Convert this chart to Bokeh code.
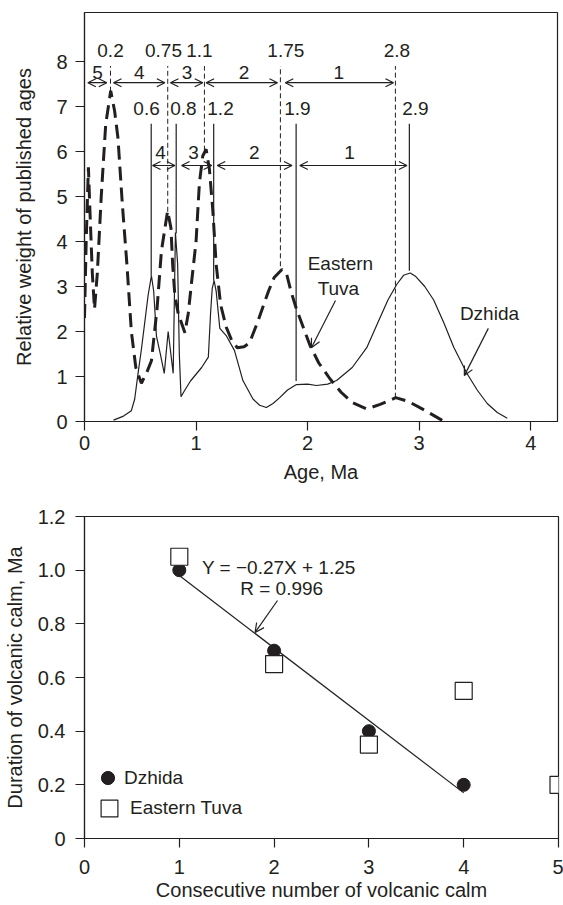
from bokeh.plotting import figure
from bokeh.models import (ColumnDataSource, Arrow, OpenHead, Legend, LegendItem,
                          FixedTicker, CustomJSTickFormatter, Range1d)
from bokeh.layouts import column
from bokeh.embed import file_html
from bokeh.resources import INLINE
from bokeh.core.properties import value

FONT = "Liberation Sans"
INK = "#231f20"
FS = "19px"
AX_FS = "20px"

# ---------------- top panel data ----------------
tuva_age = [0.0, 0.015, 0.035, 0.05, 0.07, 0.09, 0.115, 0.15, 0.19, 0.235, 0.27, 0.3, 0.34,
            0.38, 0.42, 0.46, 0.51, 0.56, 0.6, 0.65, 0.69, 0.745, 0.775, 0.79, 0.81, 0.84,
            0.9, 0.93, 0.96, 1.0, 1.03, 1.06, 1.09, 1.12, 1.15, 1.18, 1.22, 1.27, 1.32,
            1.37, 1.43, 1.48, 1.55, 1.6, 1.65, 1.7, 1.77, 1.81, 1.85, 1.9, 1.96, 2.02,
            2.1, 2.2, 2.3, 2.4, 2.53, 2.65, 2.79, 2.9, 3.05, 3.21]
tuva_weight = [2.3, 4.0, 5.65, 4.6, 3.3, 2.5, 3.3, 5.0, 6.6, 7.35, 6.9, 6.3, 4.8,
               3.5, 2.0, 1.2, 0.85, 1.1, 1.35, 2.5, 3.8, 4.68, 4.3, 3.5, 2.8, 2.4,
               1.97, 2.4, 3.1, 4.0, 5.3, 5.9, 6.05, 5.6, 4.7, 3.5, 2.6, 2.1, 1.8,
               1.64, 1.66, 1.75, 2.2, 2.55, 2.9, 3.2, 3.38, 3.3, 2.9, 2.5, 2.1, 1.7,
               1.3, 0.95, 0.65, 0.42, 0.28, 0.38, 0.53, 0.45, 0.25, 0.02]

dzhida_age = [0.26, 0.35, 0.42, 0.45, 0.48, 0.51, 0.54, 0.57, 0.6, 0.62, 0.645, 0.68, 0.715,
              0.75, 0.795, 0.815, 0.835, 0.85, 0.865, 0.9, 0.95, 1.0, 1.05, 1.11, 1.13,
              1.145, 1.162, 1.18, 1.2, 1.213, 1.27, 1.344, 1.42, 1.51, 1.57, 1.63, 1.69,
              1.75, 1.82, 1.9, 2.0, 2.08, 2.18, 2.26, 2.4, 2.53, 2.63, 2.72, 2.8, 2.86,
              2.92, 2.97, 3.05, 3.13, 3.22, 3.31, 3.43, 3.52, 3.61, 3.7, 3.79]
dzhida_weight = [0.03, 0.12, 0.24, 0.5, 1.07, 1.6, 2.2, 2.8, 3.24, 2.9, 1.9, 1.5, 1.07,
                 2.0, 1.07, 4.2, 3.5, 1.5, 0.55, 0.7, 0.9, 1.05, 1.2, 1.43, 2.4,
                 2.96, 3.13, 2.9, 2.4, 2.07, 1.91, 1.58, 0.91, 0.5, 0.36, 0.31, 0.4,
                 0.53, 0.7, 0.82, 0.83, 0.8, 0.83, 0.91, 1.2, 1.64, 2.2, 2.7, 3.05, 3.25,
                 3.3, 3.22, 3.0, 2.7, 2.2, 1.65, 1.06, 0.7, 0.4, 0.2, 0.07]

# boundaries of volcanic pulses
tuva_bound_age = [0.233, 0.746, 1.075, 1.756, 2.787]
tuva_bound_base = [7.33, 4.66, 6.02, 3.45, 0.53]
tuva_bound_label = ["0.2", "0.75", "1.1", "1.75", "2.8"]
dzhida_bound_age = [0.598, 0.822, 1.158, 1.897, 2.912]
dzhida_bound_base = [3.24, 4.18, 3.13, 0.9, 3.35]
dzhida_bound_label = ["0.6", "0.8", "1.2", "1.9", "2.9"]

# calm intervals (arrows)
tuva_calm_start = [0.03, 0.26, 0.77, 1.09, 1.80]
tuva_calm_end = [0.2, 0.72, 1.06, 1.73, 2.77]
tuva_calm_num = ["5", "4", "3", "2", "1"]
dzhida_calm_start = [0.61, 0.87, 1.19, 1.93]
dzhida_calm_end = [0.81, 1.14, 1.86, 2.89]
dzhida_calm_num = ["4", "3", "2", "1"]

# ---------------- bottom panel data ----------------
calm_number_dzhida = [1, 2, 3, 4]
calm_duration_dzhida = [1.0, 0.7, 0.4, 0.2]
calm_number_tuva = [1, 2, 3, 4, 5]
calm_duration_tuva = [1.05, 0.65, 0.35, 0.55, 0.2]
fit_x = [1, 4]
fit_y = [0.98, 0.17]

# ---------------- annotation positions ----------------
tuva_top_y = 7.9
dzhida_top_y = 6.62
tuva_arrow_y = 7.53
dzhida_arrow_y = 5.69
tuva_bound_label_x = [0.233, 0.708, 1.03, 1.805, 2.80]
tuva_bound_label_y = 8.24
dzhida_bound_label_x = [0.556, 0.887, 1.219, 1.909, 2.966]
dzhida_bound_label_y = 6.96
tuva_num_x = [0.117, 0.49, 0.92, 1.43, 2.28]
tuva_num_y = 7.76
dzhida_num_x = [0.681, 0.977, 1.523, 2.375]
dzhida_num_y = 5.98


def style(p):
    p.outline_line_color = INK
    p.outline_line_width = 1.2
    p.grid.visible = False
    p.background_fill_color = "white"
    p.border_fill_color = "white"
    for ax in p.axis:
        ax.axis_line_color = INK
        ax.axis_line_width = 1.2
        ax.major_tick_line_color = INK
        ax.major_tick_line_width = 1.2
        ax.major_tick_in = 0
        ax.major_tick_out = 9
        ax.minor_tick_line_color = None
        ax.major_label_text_font = FONT
        ax.major_label_text_font_size = AX_FS
        ax.major_label_text_color = INK
        ax.axis_label_text_font = FONT
        ax.axis_label_text_font_size = AX_FS
        ax.axis_label_text_font_style = "normal"
        ax.axis_label_text_color = INK


def texts(p, xs, ys, labels):
    p.text(x=xs, y=ys, text=labels, text_font=value(FONT), text_font_size=value(FS),
           text_align="center", text_baseline="middle", text_color=INK)


def head(size=8):
    return OpenHead(size=size, line_color=INK, line_width=1.2)


# ================= top figure =================
p1 = figure(frame_width=473, frame_height=409, min_border_left=84, min_border_right=6,
            min_border_top=12, min_border_bottom=72,
            x_range=Range1d(0, 4.24), y_range=Range1d(0, 9.09),
            output_backend="svg", toolbar_location=None,
            x_axis_label="Age, Ma", y_axis_label="Relative weight of published ages")
style(p1)
p1.xaxis.ticker = FixedTicker(ticks=[0, 1, 2, 3, 4])
p1.yaxis.ticker = FixedTicker(ticks=[0, 1, 2, 3, 4, 5, 6, 7, 8])
p1.xaxis.major_label_standoff = 5
p1.xaxis.axis_label_standoff = 8
p1.yaxis.major_label_standoff = 8
p1.yaxis.axis_label_standoff = 18

p1.line(tuva_age, tuva_weight, line_width=3, line_dash="14 7", line_color=INK)
p1.line(dzhida_age, dzhida_weight, line_width=1.2, line_color=INK)

p1.segment(x0=tuva_bound_age, y0=tuva_bound_base, x1=tuva_bound_age,
           y1=[tuva_top_y] * len(tuva_bound_age), line_width=1, line_dash="5 3", line_color=INK)
p1.segment(x0=dzhida_bound_age, y0=dzhida_bound_base, x1=dzhida_bound_age,
           y1=[dzhida_top_y] * len(dzhida_bound_age), line_width=1.2, line_color=INK)

src_t = ColumnDataSource(dict(x0=tuva_calm_start, x1=tuva_calm_end, y=[tuva_arrow_y] * len(tuva_calm_start)))
p1.add_layout(Arrow(start=head(), end=head(), x_start="x0", y_start="y", x_end="x1", y_end="y",
                    source=src_t, line_width=1.2, line_color=INK))
src_d = ColumnDataSource(dict(x0=dzhida_calm_start, x1=dzhida_calm_end, y=[dzhida_arrow_y] * len(dzhida_calm_start)))
p1.add_layout(Arrow(start=head(), end=head(), x_start="x0", y_start="y", x_end="x1", y_end="y",
                    source=src_d, line_width=1.2, line_color=INK))

texts(p1, tuva_bound_label_x, [tuva_bound_label_y] * 5, tuva_bound_label)
texts(p1, dzhida_bound_label_x, [dzhida_bound_label_y] * 5, dzhida_bound_label)
texts(p1, tuva_num_x, [tuva_num_y] * 5, tuva_calm_num)
texts(p1, dzhida_num_x, [dzhida_num_y] * 4, dzhida_calm_num)

texts(p1, [2.294, 2.276, 3.63], [3.51, 2.96, 2.4], ["Eastern", "Tuva", "Dzhida"])
p1.add_layout(Arrow(end=head(9), x_start=2.25, y_start=2.69, x_end=2.034, y_end=1.64,
                    line_width=1.2, line_color=INK))
p1.add_layout(Arrow(end=head(9), x_start=3.62, y_start=2.07, x_end=3.405, y_end=1.02,
                    line_width=1.2, line_color=INK))

# ================= bottom figure =================
p2 = figure(frame_width=474, frame_height=322, min_border_left=84, min_border_right=5,
            min_border_top=23, min_border_bottom=67,
            x_range=Range1d(0, 5), y_range=Range1d(0, 1.2),
            output_backend="svg", toolbar_location=None,
            x_axis_label="Consecutive number of volcanic calm",
            y_axis_label="Duration of volcanic calm, Ma")
style(p2)
p2.xaxis.ticker = FixedTicker(ticks=[0, 1, 2, 3, 4, 5])
p2.yaxis.ticker = FixedTicker(ticks=[0, 0.2, 0.4, 0.6, 0.8, 1.0, 1.2])
p2.yaxis.formatter = CustomJSTickFormatter(code="return tick == 0 ? '0' : tick.toFixed(1);")
p2.xaxis.major_label_standoff = 12
p2.xaxis.axis_label_standoff = 2
p2.yaxis.major_label_standoff = 10
p2.yaxis.axis_label_standoff = 9

p2.line(fit_x, fit_y, line_width=1.2, line_color=INK)
r_d = p2.scatter(calm_number_dzhida, calm_duration_dzhida, marker="circle", size=13,
                 fill_color=INK, line_color=INK)
r_t = p2.scatter(calm_number_tuva, calm_duration_tuva, marker="square", size=17,
                 fill_color="white", line_color=INK, line_width=1.2)

texts(p2, [2.05, 2.08], [1.01, 0.932], ["Y = \u22120.27X + 1.25", "R = 0.996"])
p2.add_layout(Arrow(end=head(9), x_start=2.036, y_start=0.887, x_end=1.80, y_end=0.768,
                    line_width=1.2, line_color=INK))

common = dict(padding=0, margin=0, spacing=0, border_line_alpha=0, background_fill_alpha=0,
              label_text_font=FONT, label_text_font_size=FS, label_text_color=INK)
leg1 = Legend(items=[LegendItem(label="Dzhida", renderers=[r_d])], location=(7, 44),
              glyph_width=33, glyph_height=33, label_standoff=0, **common)
leg2 = Legend(items=[LegendItem(label="Eastern Tuva", renderers=[r_t])], location=(4, 9),
              glyph_width=42, glyph_height=42, label_standoff=-5, **common)
p2.add_layout(leg1)
p2.add_layout(leg2)

layout = column(p1, p2)
open("out.html", "w").write(file_html(layout, INLINE))
